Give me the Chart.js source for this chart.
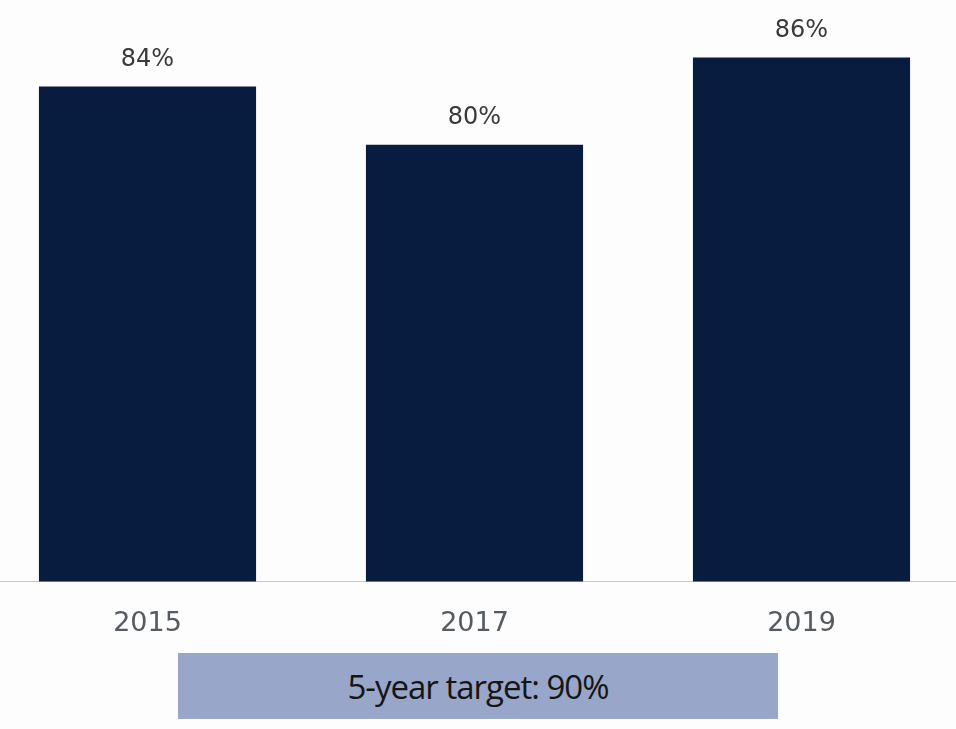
<!DOCTYPE html>
<html>
<head>
<meta charset="utf-8">
<script src="https://cdn.jsdelivr.net/npm/chart.js@4/dist/chart.umd.min.js"></script>
<style>
  html, body { margin: 0; padding: 0; background: #fdfdfd; overflow: hidden; }
  #wrap { position: absolute; left: -16px; top: 0; width: 981px; height: 666px; }
  #target {
    position: absolute; left: 178px; top: 653px; width: 600px; height: 66px;
    background: #97a6c9; color: #151515;
    font-family: "Open Sans", sans-serif; font-size: 33px; letter-spacing: -1px;
    display: flex; align-items: center; justify-content: center;
  }
</style>
</head>
<body>
<div id="wrap"><canvas id="surveyChart"></canvas></div>
<div id="target">5-year target: 90%</div>
<script>
var years = ['2015', '2017', '2019'];
var scores = [84, 80, 86];

// value labels above each bar
var valueLabels = {
    id: 'valueLabels',
    afterDatasetsDraw: function (chart) {
        var ctx = chart.ctx;
        var meta = chart.getDatasetMeta(0);
        ctx.save();
        ctx.font = '24px "DejaVu Sans"';
        ctx.fillStyle = '#3a3a3a';
        ctx.textAlign = 'center';
        ctx.textBaseline = 'middle';
        meta.data.forEach(function (bar, i) {
            ctx.fillText(scores[i] + '%', bar.x, bar.y - 27);
        });
        ctx.restore();
    }
};

var surveyChart = document.getElementById('surveyChart').getContext('2d');

let chart1 = new Chart(surveyChart, {
    type: 'bar',
    data: {
        labels: years,
        datasets: [{
            data: scores,
            backgroundColor: '#081c40',
            borderWidth: 0,
            categoryPercentage: 1,
            barPercentage: 0.664
        }]
    },

    plugins: [valueLabels],

    options: {
        responsive: true,
        maintainAspectRatio: false,
        animation: false,
        layout: { padding: 0 },
        scales: {
            y: {
                display: false,
                min: 50,
                max: 89.95
            },
            x: {
                grid: { display: false, drawTicks: false },
                border: { display: true, color: '#c8c8c8', width: 1 },
                ticks: {
                    padding: 26,
                    color: '#555b60',
                    font: { family: '"DejaVu Sans"', size: 27 }
                }
            }
        },
        plugins: {
            legend: { display: false },
            tooltip: { enabled: false }
        }
    }
});
</script>
</body>
</html>
